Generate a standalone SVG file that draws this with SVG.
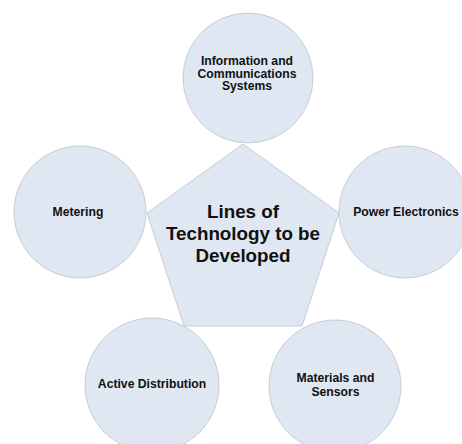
<svg xmlns="http://www.w3.org/2000/svg" width="462" height="444" viewBox="0 0 462 444">
<style>
.shape{fill:#dfe7f2;stroke:#bcc3cc;stroke-width:0.8}
.t{font-family:"Liberation Sans",Arial,sans-serif;font-weight:bold;fill:#111;text-anchor:middle}
.s{font-size:12.2px}
.c{font-size:18.8px}
</style>
<rect width="462" height="444" fill="#fff"/>
<g id="connectors"></g>
<g id="node-info">
<circle class="shape" cx="248" cy="78" r="65"/>
<text class="t s" x="247" y="65">Information and</text>
<text class="t s" x="247" y="77.5">Communications</text>
<text class="t s" x="247" y="90">Systems</text>
</g>
<g id="node-metering">
<circle class="shape" cx="80" cy="212" r="66"/>
<text class="t s" x="78" y="216">Metering</text>
</g>
<g id="node-power">
<circle class="shape" cx="405" cy="212" r="66"/>
<text class="t s" x="406" y="216">Power Electronics</text>
</g>
<g id="node-active">
<circle class="shape" cx="152" cy="385" r="67"/>
<text class="t s" x="152" y="388">Active Distribution</text>
</g>
<g id="node-materials">
<circle class="shape" cx="335" cy="386" r="66"/>
<text class="t s" x="335.5" y="382">Materials and</text>
<text class="t s" x="335.5" y="396">Sensors</text>
</g>
<g id="node-center">
<polygon class="shape" points="243,144 339,213 302,326 184,326 147,213"/>
<text class="t c" x="243" y="218">Lines of</text>
<text class="t c" x="243" y="240">Technology to be</text>
<text class="t c" x="243" y="262">Developed</text>
</g>
</svg>
